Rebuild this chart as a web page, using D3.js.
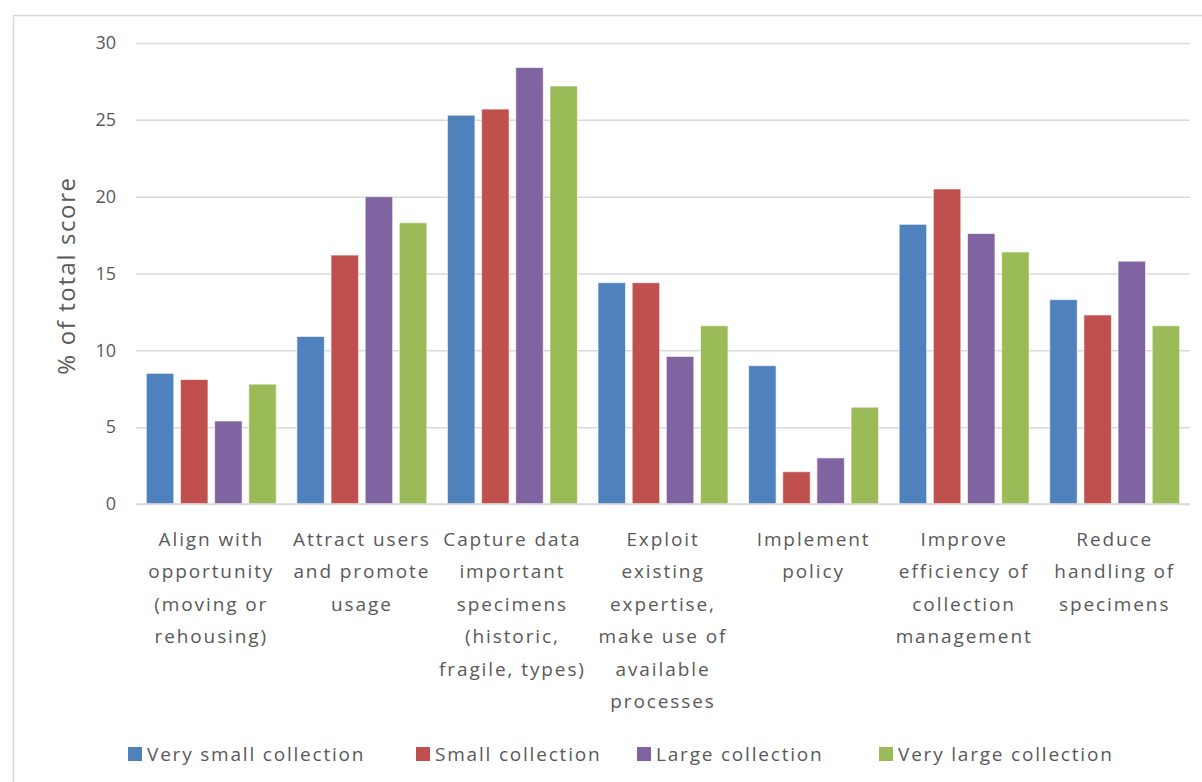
<!DOCTYPE html>
<html>
<head>
<meta charset="utf-8">
<script src="https://cdn.jsdelivr.net/npm/d3@7"></script>
<style>
  html, body { margin: 0; padding: 0; background: #fff; }
  svg { display: block; font-family: "Open Sans", "Noto Sans", sans-serif; }
</style>
</head>
<body>
<svg id="chart" width="1202" height="782"></svg>
<script>
// Category labels (one entry per line of the wrapped label)
const categories = [
  ["Align with", "opportunity", "(moving or", "rehousing)"],
  ["Attract users", "and promote", "usage"],
  ["Capture data", "important", "specimens", "(historic,", "fragile, types)"],
  ["Exploit", "existing", "expertise,", "make use of", "available", "processes"],
  ["Implement", "policy"],
  ["Improve", "efficiency of", "collection", "management"],
  ["Reduce", "handling of", "specimens"]
];

const seriesNames = ["Very small collection", "Small collection", "Large collection", "Very large collection"];
const seriesColors = ["#4F81BD", "#C0504D", "#8064A2", "#9BBB59"];

// % of total score per category, one array per collection size
const verySmall = [8.5, 10.9, 25.3, 14.4, 9.0, 18.2, 13.3];
const small     = [8.1, 16.2, 25.7, 14.4, 2.1, 20.5, 12.3];
const large     = [5.4, 20.0, 28.4, 9.6, 3.0, 17.6, 15.8];
const veryLarge = [7.8, 18.3, 27.2, 11.6, 6.3, 16.4, 11.6];

const yTicks = [0, 5, 10, 15, 20, 25, 30];
const yTitle = "% of total score";

const seriesValues = [verySmall, small, large, veryLarge];

const svg = d3.select("#chart");
const textColor = "#595959";
const gridColor = "#d9d9d9";

// chart frame
svg.append("rect")
  .attr("x", 13.5).attr("y", 15.5)
  .attr("width", 1220).attr("height", 800)
  .attr("fill", "none")
  .attr("stroke", "#d9d9d9")
  .attr("stroke-width", 1.5);

const plot = { left: 136, right: 1190, top: 43, bottom: 504 };

const x = d3.scaleBand()
  .domain(d3.range(categories.length))
  .range([plot.left, plot.right])
  .paddingInner(0.137)
  .paddingOuter(0.0685);

const xs = d3.scaleBand()
  .domain(d3.range(seriesNames.length))
  .range([0, x.bandwidth()])
  .paddingInner(0.196)
  .paddingOuter(0);

const y = d3.scaleLinear().domain([0, 30]).range([plot.bottom, plot.top]);

// horizontal gridlines + tick labels
const yAxis = d3.axisLeft(y)
  .tickValues(yTicks)
  .tickSize(-(plot.right - plot.left))
  .tickPadding(20)
  .tickFormat(d3.format("d"));

const gAxis = svg.append("g")
  .attr("transform", `translate(${plot.left},0)`)
  .call(yAxis);
gAxis.select(".domain").remove();
gAxis.selectAll(".tick line")
  .attr("stroke", gridColor)
  .attr("stroke-width", 1.5);
gAxis.selectAll(".tick text")
  .attr("fill", textColor)
  .attr("font-size", 18)
  .attr("font-family", "\"Open Sans\", sans-serif");

// bars
const groups = svg.append("g").selectAll("g")
  .data(categories.map((c, i) => i))
  .join("g")
  .attr("transform", i => `translate(${x(i)},0)`);

groups.selectAll("rect")
  .data(i => seriesValues.map((vals, s) => ({ s, v: vals[i] })))
  .join("rect")
  .attr("x", d => xs(d.s))
  .attr("width", xs.bandwidth())
  .attr("y", d => y(d.v))
  .attr("height", d => y(0) - y(d.v))
  .attr("fill", d => seriesColors[d.s])
  .attr("stroke", "#ffffff")
  .attr("stroke-opacity", 0.6)
  .attr("stroke-width", 1);

// baseline
svg.append("line")
  .attr("x1", plot.left).attr("x2", plot.right)
  .attr("y1", y(0)).attr("y2", y(0))
  .attr("stroke", gridColor)
  .attr("stroke-width", 1.5);

// category labels
const catLabels = svg.append("g")
  .attr("fill", textColor)
  .attr("font-size", 19)
  .attr("letter-spacing", 1.9)
  .attr("text-anchor", "middle");

categories.forEach((lines, i) => {
  const cx = x(i) + x.bandwidth() / 2;
  const t = catLabels.append("text");
  lines.forEach((line, j) => {
    t.append("tspan")
      .attr("x", cx)
      .attr("y", 546 + j * 32.4)
      .text(line);
  });
});

// y-axis title
svg.append("text")
  .attr("transform", `translate(75,${(plot.top + plot.bottom) / 2 + 2}) rotate(-90)`)
  .attr("text-anchor", "middle")
  .attr("fill", textColor)
  .attr("font-size", 24)
  .attr("letter-spacing", 1.6)
  .text(yTitle);

// legend
const legendX = [128, 416, 637, 879];
const legend = svg.append("g");
seriesNames.forEach((name, i) => {
  legend.append("rect")
    .attr("x", legendX[i]).attr("y", 747)
    .attr("width", 14).attr("height", 14)
    .attr("fill", seriesColors[i]);
  legend.append("text")
    .attr("x", legendX[i] + 19)
    .attr("y", 761)
    .attr("fill", textColor)
    .attr("font-size", 19)
    .attr("letter-spacing", 1.8)
    .text(name);
});
</script>
</body>
</html>
